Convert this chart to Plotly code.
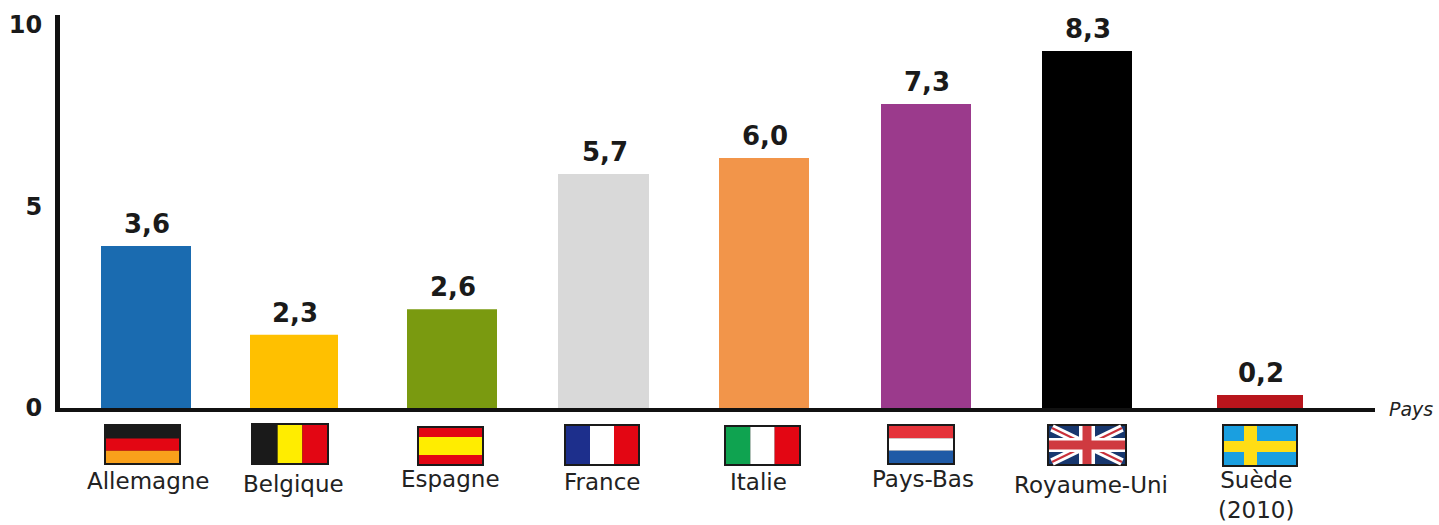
import plotly.graph_objects as go

W, H = 1439, 525
countries = ["Allemagne", "Belgique", "Espagne", "France", "Italie", "Pays-Bas", "Royaume-Uni", "Suède<br>(2010)"]
value_labels = ["3,6", "2,3", "2,6", "5,7", "6,0", "7,3", "8,3", "0,2"]
bar_heights = [4.23, 1.91, 2.58, 6.11, 6.53, 7.94, 9.32, 0.34]
y_tick_vals = [0, 5.25, 10]
y_tick_text = ["0", "5", "10"]

# layout (horizontal axis runs in screen-like units)
slots = [146, 294, 452, 603.5, 764, 926, 1087, 1260]
bar_widths = [90, 88, 90, 91, 90, 90, 90, 86]
bar_colors = ["#1a6bb0", "#ffc000", "#7a9a10", "#d9d9d9", "#f2954a", "#9b3a8c", "#000000", "#b8151c"]
label_x = [148, 293, 451, 602, 759, 923, 1091, 1256]
label_y = [481, 484, 479, 482, 482, 479, 485, 495]

L, R, T, B = 60, 1375, 15, 408
PX_PER_UNIT = 38.3


def px(x):
    return (x - L) / (R - L)


def py(y):
    return (B - y) / (B - T)


shapes = []


def rect(x0, y0, x1, y1, color):
    shapes.append(dict(type="rect", xref="paper", yref="paper", x0=px(x0), x1=px(x1),
                       y0=py(y0), y1=py(y1), fillcolor=color, line_width=0, layer="above"))


def seg(x0, y0, x1, y1, color, w):
    shapes.append(dict(type="line", xref="paper", yref="paper", x0=px(x0), x1=px(x1),
                       y0=py(y0), y1=py(y1), line=dict(color=color, width=w), layer="above"))


def frame(x0, y0, x1, y1):
    rect(x0, y0, x1, y1, "#1a1a1a")
    return x0 + 2, y0 + 2, x1 - 2, y1 - 2


def hflag(box, cols, fr=None):
    x0, y0, x1, y1 = frame(*box)
    fr = fr or [1 / len(cols)] * len(cols)
    y = y0
    for c, f in zip(cols, fr):
        rect(x0, y, x1, y + (y1 - y0) * f, c)
        y += (y1 - y0) * f


def vflag(box, cols):
    x0, y0, x1, y1 = frame(*box)
    w = (x1 - x0) / len(cols)
    for i, c in enumerate(cols):
        rect(x0 + i * w, y0, x0 + (i + 1) * w, y1, c)


hflag((104, 424, 181, 465), ["#1a1a1a", "#e30613", "#f9a11b"], [0.34, 0.33, 0.33])
vflag((251, 423, 329, 465), ["#1a1a1a", "#ffed00", "#e30613"])
hflag((417, 426, 484, 466), ["#e30613", "#ffed00", "#e30613"], [0.25, 0.5, 0.25])
vflag((564, 424, 640, 466), ["#1d2f8c", "#ffffff", "#e30613"])
vflag((724, 425, 801, 466), ["#0fa350", "#ffffff", "#e30613"])
hflag((887, 424, 955, 465), ["#e5333a", "#ffffff", "#1f5aa6"])

# Union flag
ux0, uy0, ux1, uy1 = frame(1047, 424, 1127, 466)
rect(ux0, uy0, ux1, uy1, "#17376e")
seg(ux0 + 3, uy0 + 2, ux1 - 3, uy1 - 2, "#ffffff", 8)
seg(ux0 + 3, uy1 - 2, ux1 - 3, uy0 + 2, "#ffffff", 8)
seg(ux0 + 3, uy0 + 2, ux1 - 3, uy1 - 2, "#c8303a", 2)
seg(ux0 + 3, uy1 - 2, ux1 - 3, uy0 + 2, "#c8303a", 2)
cx, cy = (ux0 + ux1) / 2, (uy0 + uy1) / 2
rect(cx - 8, uy0, cx + 8, uy1, "#ffffff")
rect(ux0, cy - 7, ux1, cy + 7, "#ffffff")
rect(cx - 4.5, uy0, cx + 4.5, uy1, "#cf3a40")
rect(ux0, cy - 4.5, ux1, cy + 4.5, "#cf3a40")

# Swedish flag
sx0, sy0, sx1, sy1 = frame(1222, 424, 1298, 467)
rect(sx0, sy0, sx1, sy1, "#1a9fe0")
rect(sx0 + 20, sy0, sx0 + 33, sy1, "#ffdd15")
rect(sx0, sy0 + 15, sx1, sy0 + 26, "#ffdd15")

fig = go.Figure(go.Bar(
    x=slots, y=bar_heights, width=bar_widths,
    marker=dict(color=bar_colors, line_width=0),
    hoverinfo="skip",
))

annotations = [
    dict(xref="x", yref="y", x=x, y=v, text=t, showarrow=False,
         xanchor="center", yanchor="bottom", yshift=5, xshift=1,
         font=dict(family="DejaVu Sans", size=26, color="#1a1a1a", weight="bold"))
    for t, x, v in zip(value_labels, slots, bar_heights)
]
annotations += [
    dict(xref="paper", yref="paper", x=px(x), y=py(y), text=t, showarrow=False,
         xanchor="center", yanchor="middle", align="center",
         font=dict(family="DejaVu Sans", size=23, color="#222222"))
    for t, x, y in zip(countries, label_x, label_y)
]
annotations.append(dict(xref="paper", yref="paper", x=px(1411), y=py(409), text="<i>Pays</i>", showarrow=False,
                        xanchor="center", yanchor="middle",
                        font=dict(family="DejaVu Sans", size=19, color="#222222")))

fig.update_layout(
    width=W, height=H, autosize=False,
    paper_bgcolor="white", plot_bgcolor="white",
    margin=dict(l=L, r=W - R, t=T, b=H - B),
    showlegend=False, shapes=shapes, annotations=annotations,
    xaxis=dict(range=[L, R], showgrid=False, zeroline=False, showticklabels=False, automargin=False,
               showline=True, linecolor="#111111", linewidth=4, ticks=""),
    yaxis=dict(range=[0, (B - T) / PX_PER_UNIT], showgrid=False, zeroline=False, automargin=False,
               tickvals=y_tick_vals, ticktext=y_tick_text, ticks="",
               showline=True, linecolor="#111111", linewidth=5,
               ticklabelstandoff=8,
               tickfont=dict(family="DejaVu Sans", size=24, color="#1a1a1a", weight="bold")),
)
fig.write_html("out.html", config=dict(displayModeBar=False),
               post_script="document.body.style.margin='0';document.body.style.overflow='hidden';")
